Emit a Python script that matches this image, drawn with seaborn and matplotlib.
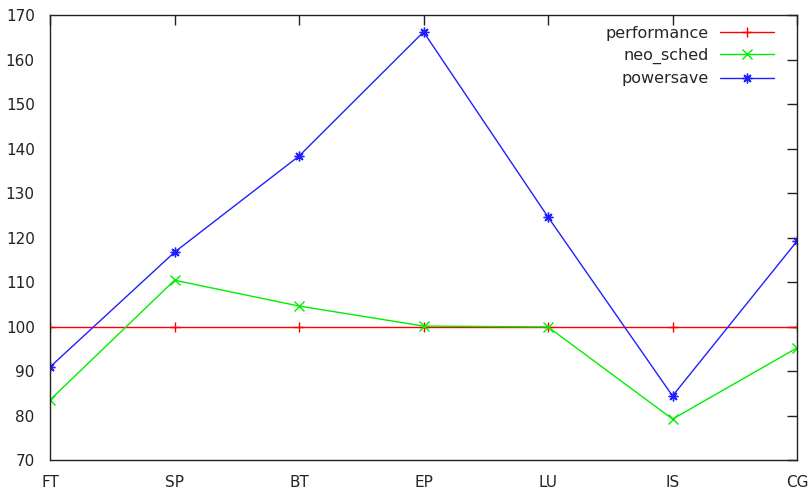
import numpy as np
import pandas as pd
import matplotlib
matplotlib.use("Agg")
import matplotlib.pyplot as plt
import seaborn as sns

benchmarks = ["FT", "SP", "BT", "EP", "LU", "IS", "CG"]
performance = [100, 100, 100, 100, 100, 100, 100]
neo_sched = [83.5, 110.4, 104.6, 100.1, 99.9, 79.2, 95.2]
powersave = [90.9, 116.7, 138.3, 166.2, 124.6, 84.4, 119.2]

sns.set_style("white")
plt.rcParams["font.family"] = ["DejaVu Sans"]

fig = plt.figure(figsize=(8.12, 4.92), dpi=100)
ax = fig.add_axes([0.0616, 0.065, 0.92, 0.9045])

x = np.arange(len(benchmarks))
series = [
    ("performance", performance, "#ff0000", "+"),
    ("neo_sched", neo_sched, "#00ee00", "x"),
    ("powersave", powersave, "#2020ff", (8, 2, 0)),
]
for name, vals, col, mk in series:
    sns.lineplot(x=x, y=vals, ax=ax, color=col, marker=mk, markersize=7,
                 markeredgewidth=1.0, linewidth=1.0, label=name, sort=False,
                 markeredgecolor=col)

ax.set_xlim(0, len(benchmarks) - 1)
ax.set_ylim(70, 170)
ax.set_xticks(x)
ax.set_xticklabels(benchmarks)
ax.set_yticks(range(70, 171, 10))
ax.tick_params(direction="in", length=7, width=1, top=True, right=True,
               labelsize=11, colors="#222222")
ax.tick_params(axis="y", pad=11)
ax.tick_params(axis="x", pad=11)
for s in ax.spines.values():
    s.set_color("#222222")
    s.set_linewidth(1)

ax.legend(loc="upper right", frameon=False, markerfirst=False, fontsize=11.5,
          handlelength=3.4, handletextpad=0.7, labelspacing=0.45,
          borderaxespad=0.0, bbox_to_anchor=(0.978, 0.99))

fig.savefig("out.png", dpi=100)
